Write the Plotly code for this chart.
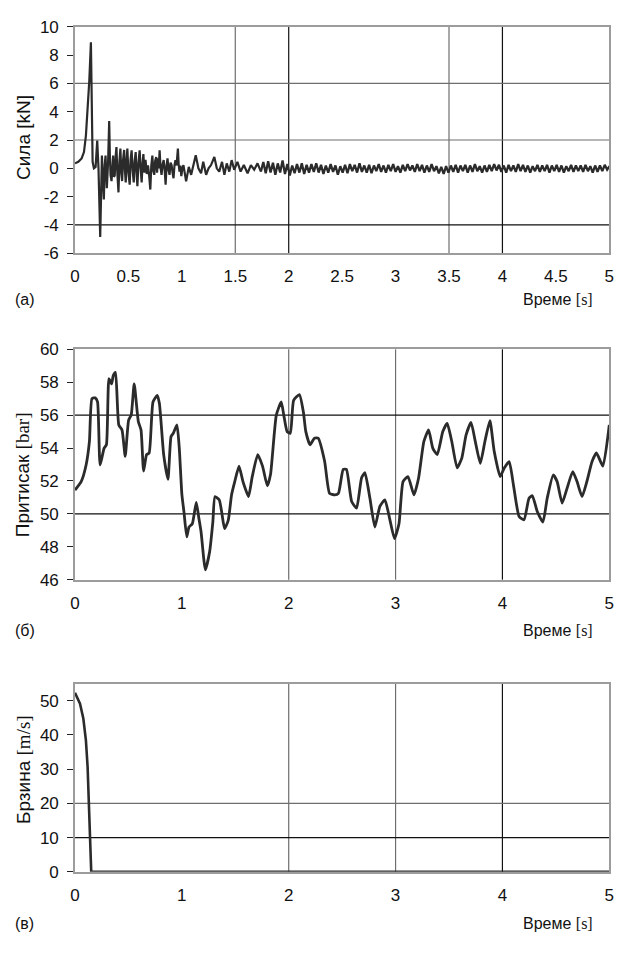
import plotly.graph_objects as go

# ---------------- DATA ----------------
# (a) Force [kN] - early, irregular part (explicit times)
force_t_early = [0, 0.031, 0.062, 0.084, 0.102, 0.118, 0.134, 0.149, 0.158, 0.165, 0.177, 0.193,
                 0.208, 0.22, 0.236, 0.245, 0.252, 0.26, 0.27, 0.278, 0.286, 0.292, 0.298, 0.31,
                 0.32, 0.326, 0.333, 0.342, 0.35, 0.357, 0.364, 0.372, 0.38, 0.388, 0.397, 0.407,
                 0.416, 0.425, 0.433, 0.441, 0.45, 0.46, 0.468, 0.475, 0.482, 0.49, 0.5, 0.512,
                 0.52, 0.53, 0.54, 0.55, 0.558, 0.568, 0.576, 0.584, 0.594, 0.605, 0.614, 0.624,
                 0.632, 0.64, 0.65, 0.66, 0.672, 0.683, 0.694, 0.705, 0.714, 0.724, 0.733, 0.742,
                 0.75, 0.76, 0.768, 0.776, 0.784, 0.792, 0.8, 0.81, 0.82, 0.83, 0.84, 0.848,
                 0.857, 0.866, 0.875, 0.885, 0.894, 0.904, 0.913, 0.922, 0.931, 0.94, 0.95, 0.963,
                 0.97, 0.978, 0.986, 0.995, 1.005, 1.015,
                 1.04, 1.065, 1.087, 1.109, 1.13, 1.155, 1.18, 1.2, 1.227, 1.25, 1.273, 1.304,
                 1.327, 1.35, 1.376, 1.398, 1.42, 1.444, 1.466, 1.49, 1.52, 1.55, 1.58, 1.615,
                 1.646, 1.677, 1.708, 1.74]
force_v_early = [0.35, 0.46, 0.7, 1.15, 2.3, 4.15, 6.2, 8.9, 4.6, 0.46, 0.0, 0.1,
                 1.96, 0.0, -4.85, -1.0, 0.9, -0.6, -2.2, 0.2, 0.9, -0.3, -1.4, 0.5,
                 3.35, 1.0, -0.5, -0.9, 0.6, 0.9, -0.6, -0.5, 0.8, 1.5, -0.4, -1.7,
                 0.5, 1.4, -0.3, -0.9, 0.6, 1.3, -0.2, -1.0, 0.4, 1.4, -0.3, -1.15,
                 0.6, 1.27, -0.2, -1.0, 0.5, 1.15, -0.3, -1.27, 0.4, 1.27, 0.0, -1.0,
                 0.3, 1.0, -0.3, 0.6, -0.4, 0.2, -0.5, -1.5, 0.2, 0.9, -0.2, -0.46,
                 0.5, 0.8, -0.3, 0.7, 0.0, 1.27, 0.1, -0.46, 0.3, 0.58, -0.2, -1.15,
                 0.2, 0.7, -0.1, -0.46, 0.4, 0.23, -0.3, -0.7, 0.2, 0.58, 0.2, 1.4,
                 0.3, -0.23, 0.2, -0.55, 0.0, 0.23,
                 -0.92, 0.1, -0.46, 0.23, 0.92, 0.0, -0.35, 0.46, -0.46, 0.0, 0.23, 0.8,
                 0.0, -0.23, 0.46, -0.46, 0.35, -0.23, 0.58, -0.1, 0.46, -0.23, 0.23, -0.35,
                 0.23, -0.1, 0.35, -0.23]
# (a) Force [kN] - late part, uniformly sampled from FORCE_LATE_T0 with step FORCE_LATE_DT
FORCE_LATE_T0 = 1.74
FORCE_LATE_DT = 0.0225
force_v_late = [
    -0.23, 0.45, -0.35, 0.5, -0.3, 0.4, -0.45, 0.35, -0.3, 0.55, -0.4, 0.3,
    -0.5, 0.2, -0.35, 0.3, -0.3, 0.35, -0.4, 0.25, -0.3, 0.3, -0.25, 0.35,
    -0.3, 0.25, -0.4, 0.2, -0.3, 0.3, -0.25, 0.2, -0.45, 0.15, -0.3, 0.25,
    -0.35, 0.3, -0.2, 0.25, -0.3, 0.35, -0.25, 0.2, -0.3, 0.25, -0.35, 0.2,
    -0.2, 0.3, -0.25, 0.2, -0.3, 0.25, -0.2, 0.3, -0.25, 0.15, -0.3, 0.25,
    -0.2, 0.3, -0.15, 0.2, -0.25, 0.3, -0.2, 0.25, -0.3, 0.2, -0.25, 0.3,
    -0.2, 0.15, -0.35, 0.1, -0.4, 0.15, -0.3, 0.2, -0.25, 0.25, -0.3, 0.2,
    -0.2, 0.25, -0.3, 0.2, -0.25, 0.3, -0.2, 0.15, -0.3, 0.2, -0.25, 0.25,
    -0.2, 0.3, -0.15, 0.25, -0.25, 0.2, -0.3, 0.25, -0.2, 0.2, -0.25, 0.3,
    -0.2, 0.25, -0.25, 0.2, -0.3, 0.15, -0.2, 0.25, -0.25, 0.2, -0.2, 0.25,
    -0.3, 0.2, -0.2, 0.25, -0.25, 0.2, -0.3, 0.15, -0.2, 0.25, -0.25, 0.2,
    -0.2, 0.2, -0.25, 0.25, -0.2, 0.15, -0.3, 0.2, -0.25, 0.2, -0.2, 0.25,
    -0.1, 0.15]

# (б) Pressure [bar]
press_t = [0, 0.058, 0.104, 0.135, 0.159, 0.19, 0.211, 0.235, 0.272, 0.294, 0.318, 0.343,
           0.358, 0.379, 0.41, 0.44, 0.47, 0.502, 0.526, 0.554, 0.593, 0.618, 0.642, 0.67,
           0.694, 0.73, 0.77, 0.79, 0.83, 0.87, 0.899, 0.92, 0.954, 0.976, 1.0, 1.02,
           1.046, 1.067, 1.098, 1.135, 1.16, 1.18, 1.22, 1.26, 1.29, 1.31, 1.35, 1.373,
           1.40, 1.434, 1.465, 1.495, 1.535, 1.572, 1.624, 1.657, 1.71, 1.755, 1.80, 1.83,
           1.884, 1.93, 1.954, 1.985, 2.015, 2.046, 2.10, 2.137, 2.16, 2.2, 2.24, 2.275,
           2.336, 2.382, 2.43, 2.465, 2.51, 2.54, 2.589, 2.635, 2.682, 2.713, 2.76, 2.806,
           2.853, 2.9, 2.945, 2.99, 3.032, 3.07, 3.116, 3.172, 3.215, 3.265, 3.309, 3.349,
           3.39, 3.442, 3.483, 3.526, 3.576, 3.619, 3.66, 3.706, 3.746, 3.793, 3.836, 3.883,
           3.923, 3.979, 4.016, 4.063, 4.103, 4.156, 4.202, 4.249, 4.28, 4.326, 4.379, 4.419,
           4.475, 4.512, 4.559, 4.605, 4.658, 4.698, 4.745, 4.79, 4.838, 4.88, 4.94, 5.0]
press_v = [51.45, 51.96, 52.97, 54.4, 57.0, 57.05, 56.8, 52.97, 53.98, 54.2, 58.22, 57.9,
           58.4, 58.6, 55.4, 55.1, 53.5, 55.7, 56.0, 57.9, 55.6, 55.1, 52.6, 53.6,
           53.7, 56.8, 57.2, 56.7, 53.6, 52.1, 54.7, 54.9, 55.4, 54.0, 51.2, 50.1,
           48.6, 49.2, 49.4, 50.7, 49.7, 48.9, 46.6, 47.7, 49.5, 51.05, 50.85, 50.1,
           49.1, 49.6, 51.15, 51.96, 52.9, 51.96, 51.05, 52.2, 53.6, 52.9, 51.7, 52.4,
           56.0, 56.8, 56.0, 55.0, 54.9, 56.9, 57.25, 56.2, 55.0, 54.2, 54.6, 54.6,
           53.2, 51.25, 51.15, 51.25, 52.7, 52.7, 50.75, 50.35, 52.2, 52.5, 50.95, 49.2,
           50.45, 50.85, 49.7, 48.5, 49.4, 51.96, 52.26, 51.15, 52.16, 54.4, 55.1, 53.98,
           53.6, 55.0, 55.5, 54.4, 52.8, 53.37, 54.8, 55.56, 54.4, 53.07, 54.4, 55.66,
           53.8, 52.26, 52.77, 53.17, 51.76, 49.84, 49.64, 50.95, 51.1, 50.14, 49.5, 50.95,
           52.36, 51.96, 50.65, 51.56, 52.57, 51.96, 51.05, 51.96, 53.17, 53.7, 52.9, 55.4]

# (в) Velocity [m/s]
vel_t = [0, 0.047, 0.078, 0.102, 0.118, 0.13, 0.14, 0.149, 0.152, 1.0, 2.0, 3.0, 4.0, 5.0]
vel_v = [52.3, 49.1, 44.8, 38.5, 30.7, 21.3, 13.5, 5.7, 0.0, 0.0, 0.0, 0.0, 0.0, 0.0]

# tick values / labels
xticks_a = [0, 0.5, 1, 1.5, 2, 2.5, 3, 3.5, 4, 4.5, 5]
yticks_a = [-6, -4, -2, 0, 2, 4, 6, 8, 10]
xticks_bc = [0, 1, 2, 3, 4, 5]
yticks_b = [46, 48, 50, 52, 54, 56, 58, 60]
yticks_c = [0, 10, 20, 30, 40, 50]

# visible gridlines (value, style key)
grid_a_x = [(1.5, "g"), (2, "k"), (3.5, "g"), (4, "k")]
grid_a_y = [(6, "g"), (2, "g"), (-4, "k")]
grid_b_x = [(2, "g"), (3, "g"), (4, "k")]
grid_b_y = [(56, "k"), (50, "k")]
grid_c_x = [(2, "g"), (3, "g"), (4, "k")]
grid_c_y = [(20, "g"), (10, "k")]

# ---------------- STYLE ----------------
W, H = 624, 963
LINE = "#2b2b2b"
GRIDC = {"g": "#6e6e6e", "k": "#111111"}
FRAME = "#9c9c9c"
SANS = "Liberation Sans, Arial, sans-serif"
NARROW = "Liberation Sans Narrow, Arial Narrow, Liberation Sans, sans-serif"
SERIF = "Liberation Serif, Times New Roman, serif"
FS = 17      # tick labels (narrow face)
FS_L = 16    # horizontal captions
FS_T = 19    # rotated axis titles

def py(px):
    return 1 - px / H

def px_x(px):
    return px / W

XDOM = [px_x(63), px_x(606)]
panels = {
    "a": dict(top=10, bot=241, rng=[-6, 10], title_at=2.2),
    "b": dict(top=339, bot=574, rng=[46, 60], title_at=52.4),
    "c": dict(top=680, bot=872, rng=[0, 55], title_at=30.0),
}

def val_to_paper(key, v):
    p = panels[key]
    lo, hi = p["rng"]
    ypx = p["bot"] - (v - lo) / (hi - lo) * (p["bot"] - p["top"])
    return py(ypx)

fig = go.Figure()

fig.add_trace(go.Scatter(x=force_t_early, y=force_v_early, mode="lines",
                         line=dict(color=LINE, width=2.2), xaxis="x", yaxis="y",
                         showlegend=False, hoverinfo="skip"))
fig.add_trace(go.Scatter(x0=FORCE_LATE_T0, dx=FORCE_LATE_DT, y=force_v_late, mode="lines",
                         line=dict(color=LINE, width=2.3), xaxis="x", yaxis="y",
                         showlegend=False, hoverinfo="skip"))
fig.add_trace(go.Scatter(x=press_t, y=press_v, mode="lines",
                         line=dict(color=LINE, width=2.8, shape="spline", smoothing=0.5),
                         xaxis="x2", yaxis="y2", showlegend=False, hoverinfo="skip"))
fig.add_trace(go.Scatter(x=vel_t, y=vel_v, mode="lines",
                         line=dict(color=LINE, width=2.6),
                         xaxis="x3", yaxis="y3", showlegend=False, hoverinfo="skip"))

def xax(dom_anchor, ticks):
    return dict(domain=XDOM, anchor=dom_anchor, range=[0, 5], tickvals=ticks,
                ticktext=[str(t) for t in ticks], showgrid=False, zeroline=False,
                showline=True, mirror=True, linecolor=FRAME, linewidth=1.5,
                ticks="outside", ticklen=7, tickcolor="rgba(0,0,0,0)",
                tickfont=dict(family=NARROW, size=FS, color="#111"), fixedrange=True)

def yax(key, anchor, ticks):
    p = panels[key]
    return dict(domain=[py(p["bot"]), py(p["top"])], anchor=anchor, range=p["rng"],
                tickvals=ticks, ticktext=[str(t) for t in ticks], showgrid=False,
                zeroline=False, showline=True, mirror=True, linecolor=FRAME, linewidth=1.5,
                ticks="outside", ticklen=6, tickcolor="#222", tickwidth=1,
                ticklabelstandoff=5,
                tickfont=dict(family=NARROW, size=FS, color="#111"), fixedrange=True)

fig.update_layout(
    width=W, height=H, margin=dict(l=0, r=0, t=0, b=0),
    paper_bgcolor="white", plot_bgcolor="white",
    font=dict(family=SANS, size=FS, color="#111"),
    xaxis=xax("y", xticks_a),
    yaxis=yax("a", "x", yticks_a),
    xaxis2=xax("y2", xticks_bc),
    yaxis2=yax("b", "x2", yticks_b),
    xaxis3=xax("y3", xticks_bc),
    yaxis3=yax("c", "x3", yticks_c),
)

shapes = []
for (xa, ya, gx, gy) in [("x", "y", grid_a_x, grid_a_y),
                         ("x2", "y2", grid_b_x, grid_b_y),
                         ("x3", "y3", grid_c_x, grid_c_y)]:
    for v, s in gx:
        shapes.append(dict(type="line", xref=xa, yref=ya + " domain", x0=v, x1=v, y0=0, y1=1,
                           line=dict(color=GRIDC[s], width=1.2), layer="below"))
    for v, s in gy:
        shapes.append(dict(type="line", xref=xa + " domain", yref=ya, x0=0, x1=1, y0=v, y1=v,
                           line=dict(color=GRIDC[s], width=1.2), layer="below"))
fig.update_layout(shapes=shapes)

unit = lambda u: f"<span style='font-family:{SERIF}'>[{u}]</span>"

annots = []
labels = [("(а)", 288), ("(б)", 626), ("(в)", 925)]
for lab, ypx in labels:
    annots.append(dict(text=lab, x=px_x(0), y=py(ypx), xref="paper", yref="paper",
                       xanchor="left", yanchor="middle", showarrow=False,
                       font=dict(family=NARROW, size=FS_L)))
    annots.append(dict(text="Време " + unit("s"), x=px_x(591), y=py(ypx), xref="paper",
                       yref="paper", xanchor="right", yanchor="middle", showarrow=False,
                       font=dict(family=NARROW, size=FS_L)))
ytitles = [("a", "Сила [kN]"), ("b", "Притисак " + unit("bar")), ("c", "Брзина " + unit("m/s"))]
for key, txt in ytitles:
    annots.append(dict(text=txt, x=px_x(10), y=val_to_paper(key, panels[key]["title_at"]),
                       xref="paper", yref="paper",
                       xanchor="center", yanchor="middle", textangle=-90, showarrow=False,
                       font=dict(family=SANS, size=FS_T)))
fig.update_layout(annotations=annots)

fig.write_html("out.html")
